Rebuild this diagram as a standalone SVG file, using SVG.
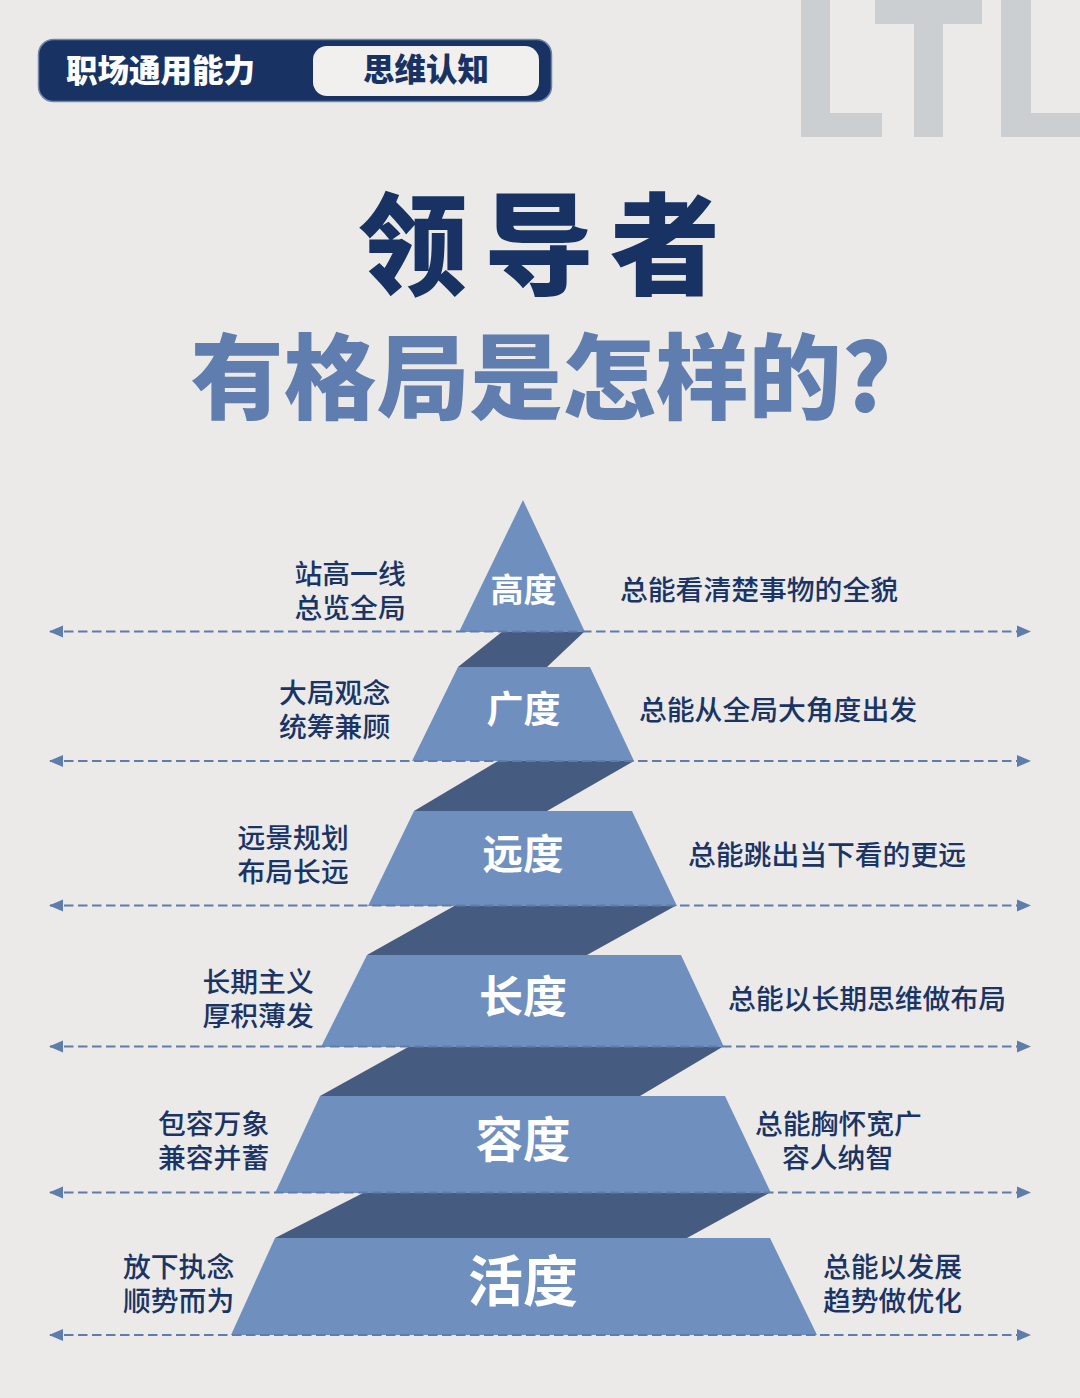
<svg xmlns="http://www.w3.org/2000/svg" width="1080" height="1398" viewBox="0 0 1080 1398">
<style>
text{font-family:"Noto Sans CJK SC","Noto Sans",sans-serif}
.tier{fill:#6f90bf}
.shade{fill:#465b80}
.lbl{fill:#fff;font-weight:700;text-anchor:middle}
.note{fill:#1a3565;font-size:27.800px;font-weight:500}
.dash{stroke:#5f7dab;stroke-width:2;stroke-dasharray:9.500 4.500;fill:none;marker-start:url(#a);marker-end:url(#b)}
.wm{fill:#cbcfd2}
</style>
<defs>
<marker id="a" markerUnits="userSpaceOnUse" markerWidth="14" markerHeight="14" refX="1" refY="7" orient="auto"><path d="M0 7L14 1V13Z" fill="#5f7dab"/></marker>
<marker id="b" markerUnits="userSpaceOnUse" markerWidth="14" markerHeight="14" refX="13" refY="7" orient="auto"><path d="M14 7L0 1V13Z" fill="#5f7dab"/></marker>
</defs>
<rect width="1080" height="1398" fill="#ebeae8"/>
<g id="watermark">
<path class="wm" d="M801 0H830V113H882V137H801Z"/>
<path class="wm" d="M875 0H982V24H943V137H914V24H875Z"/>
<path class="wm" d="M1001 0H1031V113H1080V137H1001Z"/>
</g>
<g id="badge">
<rect x="38.500" y="39.500" width="513" height="62" rx="15" fill="#183363" stroke="#6f86a8" stroke-width="1.500"/>
<rect x="313" y="46" width="226" height="50" rx="14" fill="#f1f0ee"/>
<text x="160.500" y="82" font-size="31.500" font-weight="900" fill="#fff" text-anchor="middle">职场通用能力</text>
<text x="426" y="81" font-size="31.500" font-weight="900" fill="#183363" text-anchor="middle">思维认知</text>
</g>
<g id="title">
<text x="547" y="286" font-size="110" font-weight="900" fill="#183363" text-anchor="middle" letter-spacing="16">领导者</text>
<text x="541" y="412" font-size="93" font-weight="900" fill="#5f7dae" text-anchor="middle">有格局是怎样的?</text>
</g>
<g id="shades">
<path class="shade" d="M503 631H585L547 667H458Z"/>
<path class="shade" d="M498 761H634L547 811H414Z"/>
<path class="shade" d="M456 905H677L587 955H367Z"/>
<path class="shade" d="M410 1046H724L640 1096H320Z"/>
<path class="shade" d="M365 1192H771L687 1238H275Z"/>
</g>
<g id="node-gaodu">
<path class="tier" d="M523 500L585 632H459Z"/>
<text class="lbl" x="523.500" y="602" font-size="33">高度</text>
<text class="note" y="584"><tspan x="294.500">站高一线</tspan><tspan x="294.500" dy="34">总览全局</tspan></text>
<text class="note" x="620" y="600">总能看清楚事物的全貌</text>
</g>
<g id="node-guangdu">
<path class="tier" d="M458 667H590L634 761H412Z"/>
<text class="lbl" x="523.500" y="723" font-size="37">广度</text>
<text class="note" y="703"><tspan x="279">大局观念</tspan><tspan x="279" dy="34">统筹兼顾</tspan></text>
<text class="note" x="639" y="720">总能从全局大角度出发</text>
</g>
<g id="node-yuandu">
<path class="tier" d="M414 811H632L677 906H368Z"/>
<text class="lbl" x="523" y="869" font-size="40.500">远度</text>
<text class="note" y="848"><tspan x="237.500">远景规划</tspan><tspan x="237.500" dy="34">布局长远</tspan></text>
<text class="note" x="688" y="865">总能跳出当下看的更远</text>
</g>
<g id="node-changdu">
<path class="tier" d="M367 955H681L724 1047H321Z"/>
<text class="lbl" x="523" y="1013" font-size="44">长度</text>
<text class="note" y="992"><tspan x="202.500">长期主义</tspan><tspan x="202.500" dy="34">厚积薄发</tspan></text>
<text class="note" x="728" y="1009">总能以长期思维做布局</text>
</g>
<g id="node-rongdu">
<path class="tier" d="M320 1096H725L771 1193H275Z"/>
<text class="lbl" x="523" y="1157" font-size="47.500">容度</text>
<text class="note" y="1134"><tspan x="158">包容万象</tspan><tspan x="158" dy="34">兼容并蓄</tspan></text>
<text class="note" y="1134"><tspan x="755">总能胸怀宽广</tspan><tspan x="782" dy="34">容人纳智</tspan></text>
</g>
<g id="node-huodu">
<path class="tier" d="M275 1238H770L817 1335H231Z"/>
<text class="lbl" x="523" y="1301" font-size="55">活度</text>
<text class="note" y="1277"><tspan x="123">放下执念</tspan><tspan x="123" dy="34">顺势而为</tspan></text>
<text class="note" y="1277"><tspan x="823">总能以发展</tspan><tspan x="823" dy="34">趋势做优化</tspan></text>
</g>
<g id="connectors">
<path class="dash" d="M50 631.500H1030"/>
<path class="dash" d="M50 761H1030"/>
<path class="dash" d="M50 905.500H1030"/>
<path class="dash" d="M50 1046.500H1030"/>
<path class="dash" d="M50 1192.500H1030"/>
<path class="dash" d="M50 1335H1030"/>
</g>
</svg>
